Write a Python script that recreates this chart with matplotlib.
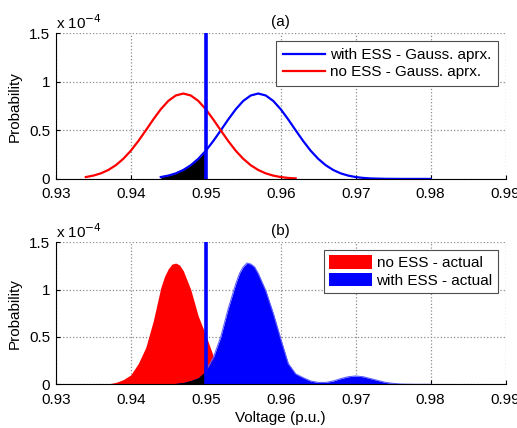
import numpy as np
import matplotlib
matplotlib.use("Agg")
from matplotlib import pyplot as plt

plt.rcParams['font.family'] = ['Liberation Sans', 'DejaVu Sans']
plt.rcParams['font.size'] = 11

# (a) Gaussian approximations, probability in units of 1e-4
red_a_v = [0.934, 0.935, 0.936, 0.937, 0.938, 0.939, 0.940, 0.941, 0.942, 0.943,
           0.944, 0.945, 0.946, 0.947, 0.948, 0.949, 0.950, 0.951, 0.952, 0.953,
           0.954, 0.955, 0.956, 0.957, 0.958, 0.959, 0.960, 0.961, 0.962]
red_a_p = [0.019, 0.034, 0.057, 0.092, 0.141, 0.207, 0.290, 0.390, 0.500, 0.613,
           0.718, 0.804, 0.860, 0.880, 0.860, 0.804, 0.718, 0.613, 0.500, 0.390,
           0.290, 0.207, 0.141, 0.092, 0.057, 0.034, 0.019, 0.010, 0.005]

blue_a_v = [0.944, 0.945, 0.946, 0.947, 0.948, 0.949, 0.950, 0.951, 0.952, 0.953,
            0.954, 0.955, 0.956, 0.957, 0.958, 0.959, 0.960, 0.961, 0.962, 0.963,
            0.964, 0.965, 0.966, 0.967, 0.968, 0.969, 0.970, 0.971, 0.972, 0.973,
            0.974, 0.975, 0.976, 0.977, 0.978, 0.979, 0.980]
blue_a_p = [0.019, 0.034, 0.057, 0.092, 0.141, 0.207, 0.290, 0.390, 0.500, 0.613,
            0.718, 0.804, 0.860, 0.880, 0.860, 0.804, 0.718, 0.613, 0.500, 0.390,
            0.290, 0.207, 0.141, 0.092, 0.057, 0.034, 0.019, 0.010, 0.005, 0.0025,
            0.001, 0.0005, 0.0, 0.0, 0.0, 0.0, 0.0]

# (b) actual distributions
red_b_v = [0.9365, 0.937, 0.938, 0.939, 0.940, 0.941, 0.942, 0.943, 0.944, 0.9445,
           0.945, 0.9455, 0.946, 0.9465, 0.947, 0.948, 0.949, 0.950, 0.951, 0.952,
           0.953, 0.954, 0.955, 0.956, 0.957]
red_b_p = [0.0, 0.005, 0.02, 0.05, 0.10, 0.22, 0.39, 0.67, 1.02, 1.14,
           1.22, 1.27, 1.28, 1.26, 1.20, 1.00, 0.72, 0.52, 0.30, 0.15,
           0.07, 0.03, 0.01, 0.004, 0.0]

blue_b_v = [0.944, 0.945, 0.946, 0.947, 0.948, 0.949, 0.950, 0.951, 0.952, 0.953,
            0.954, 0.9545, 0.955, 0.9555, 0.956, 0.9565, 0.957, 0.958, 0.959, 0.960,
            0.961, 0.962, 0.963, 0.964, 0.965, 0.966, 0.967, 0.968, 0.969, 0.970,
            0.971, 0.972, 0.973, 0.974, 0.975, 0.976, 0.977, 0.978, 0.979, 0.980]
blue_b_p = [0.0, 0.005, 0.01, 0.02, 0.04, 0.07, 0.14, 0.28, 0.50, 0.80,
            1.06, 1.17, 1.24, 1.28, 1.27, 1.24, 1.17, 0.99, 0.75, 0.48,
            0.22, 0.11, 0.07, 0.035, 0.02, 0.02, 0.035, 0.06, 0.08, 0.088,
            0.08, 0.06, 0.04, 0.02, 0.01, 0.003, 0.001, 0.0, 0.0, 0.0]

limit = 0.95
xticks = [0.93, 0.94, 0.95, 0.96, 0.97, 0.98, 0.99]
yticks = [0, 0.5, 1, 1.5]


def style(ax):
    ax.set_xlim(0.93, 0.99)
    ax.set_ylim(0, 1.5)
    ax.set_xticks(xticks)
    ax.set_xticklabels(['%.2f' % t for t in xticks])
    ax.set_yticks(yticks)
    ax.set_yticklabels(['0', '0.5', '1', '1.5'])
    ax.tick_params(axis='x', direction='in', length=3, pad=6)
    ax.tick_params(axis='y', direction='in', length=3, pad=4)
    ax.grid(True, color='0.55', linestyle=':', linewidth=0.9)
    ax.set_axisbelow(True)
    ax.spines['top'].set_visible(False)
    ax.spines['right'].set_visible(False)
    ax.set_ylabel('Probability', labelpad=5)
    ax.text(0, 1.01, r'x 10$^{-4}$', transform=ax.transAxes, ha='left', va='bottom')


fig = plt.figure(figsize=(5.17, 4.28), dpi=100)
ax1 = fig.add_axes([0.108, 0.582, 0.870, 0.340])
ax2 = fig.add_axes([0.108, 0.102, 0.870, 0.332])

# (a)
bv = np.array(blue_a_v)
bp = np.array(blue_a_p)
m = bv <= limit
ax1.fill_between(bv[m], bp[m], color='black', lw=0)
ax1.plot(blue_a_v, blue_a_p, color='b', lw=1.6, label='with ESS - Gauss. aprx.')
ax1.plot(red_a_v, red_a_p, color='r', lw=1.6, label='no ESS - Gauss. aprx.')
ax1.axvline(limit, color='b', lw=2.6)
style(ax1)
ax1.set_title('(a)', fontsize=11, pad=5)
leg = ax1.legend(loc='upper right', fancybox=False, framealpha=1, edgecolor='0.3',
                 handlelength=2.8, borderpad=0.45, labelspacing=0.2, handletextpad=0.3,
                 borderaxespad=0.5)
leg.get_frame().set_linewidth(0.8)

# (b)
bv = np.array(blue_b_v)
bp = np.array(blue_b_p)
m = bv <= limit
ax2.fill_between(red_b_v, red_b_p, color='r', lw=0, label='no ESS - actual')
ax2.fill_between(bv, bp, color='b', lw=0, label='with ESS - actual')
ax2.fill_between(bv[m], bp[m], color='black', lw=0)
ax2.plot(bv[bv >= limit], bp[bv >= limit], color='#6060ff', lw=0.8)
ax2.axvline(limit, color='b', lw=2.6)
style(ax2)
ax2.set_title('(b)', fontsize=11, pad=5)
ax2.set_xlabel('Voltage (p.u.)', labelpad=3)
leg = ax2.legend(loc='upper right', fancybox=False, framealpha=1, edgecolor='0.3',
                 handlelength=2.8, handleheight=1.0, borderpad=0.35, labelspacing=0.15,
                 handletextpad=0.3, borderaxespad=0.5)
leg.get_frame().set_linewidth(0.8)

fig.savefig('out.png', dpi=100)
